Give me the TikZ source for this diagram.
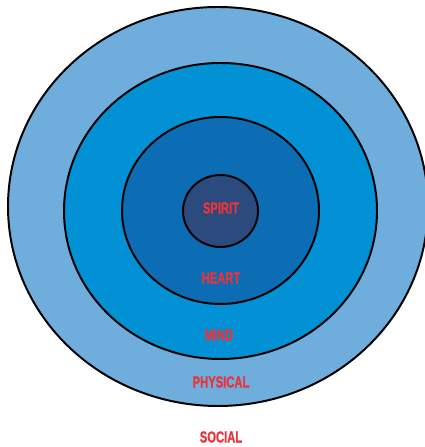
\documentclass[tikz,border=0pt]{standalone}
\usepackage{fontspec}
\setmainfont{Liberation Sans}
\newfontfamily\labelfont[UprightFont={* Bold}, FakeBold=1.2]{Liberation Sans}
\usepackage{tikz}

\definecolor{socialblue}{HTML}{6EADDC}
\definecolor{physicalblue}{HTML}{0191D4}
\definecolor{mindblue}{HTML}{0C6CB4}
\definecolor{spiritblue}{HTML}{2B4B7F}
\definecolor{labelred}{HTML}{E8343C}

\tikzset{
  ring/.style={draw=black, line width=1.4pt},
  ringlabel/.style={text=labelred, font=\fontsize{11.4}{12}\labelfont, inner sep=0pt}
}
\newcommand{\narrow}[1]{\scalebox{0.7}[1]{#1}}

\begin{document}
\begin{tikzpicture}[x=0.025cm, y=0.025cm]
    % Fix the page to the reference size
    \useasboundingbox (0,0) rectangle (425,447);
    \clip (0,0) rectangle (425,447);

    % Draw the four rings from the outside in
    \draw[ring, fill=socialblue] (218,240.5) ellipse (210 and 199.5);
    \draw[ring, fill=physicalblue] (220.5,236) ellipse (156.5 and 148);
    \draw[ring, fill=mindblue] (220.5,236.5) ellipse (98.5 and 93.5);
    \draw[ring, fill=spiritblue] (220.5,236) ellipse (37.5 and 36);

    % Add the labels of the rings
    \node[ringlabel] (spirit) at (221,239) {\narrow{SPIRIT}};
    \node[ringlabel] (heart) at (221,169) {\narrow{HEART}};
    \node[ringlabel] (mind) at (219,112) {\narrow{MIND}};
    \node[ringlabel] (physical) at (221,65) {\narrow{PHYSICAL}};
    \node[ringlabel] (social) at (221,10) {\narrow{SOCIAL}};
\end{tikzpicture}
\end{document}
